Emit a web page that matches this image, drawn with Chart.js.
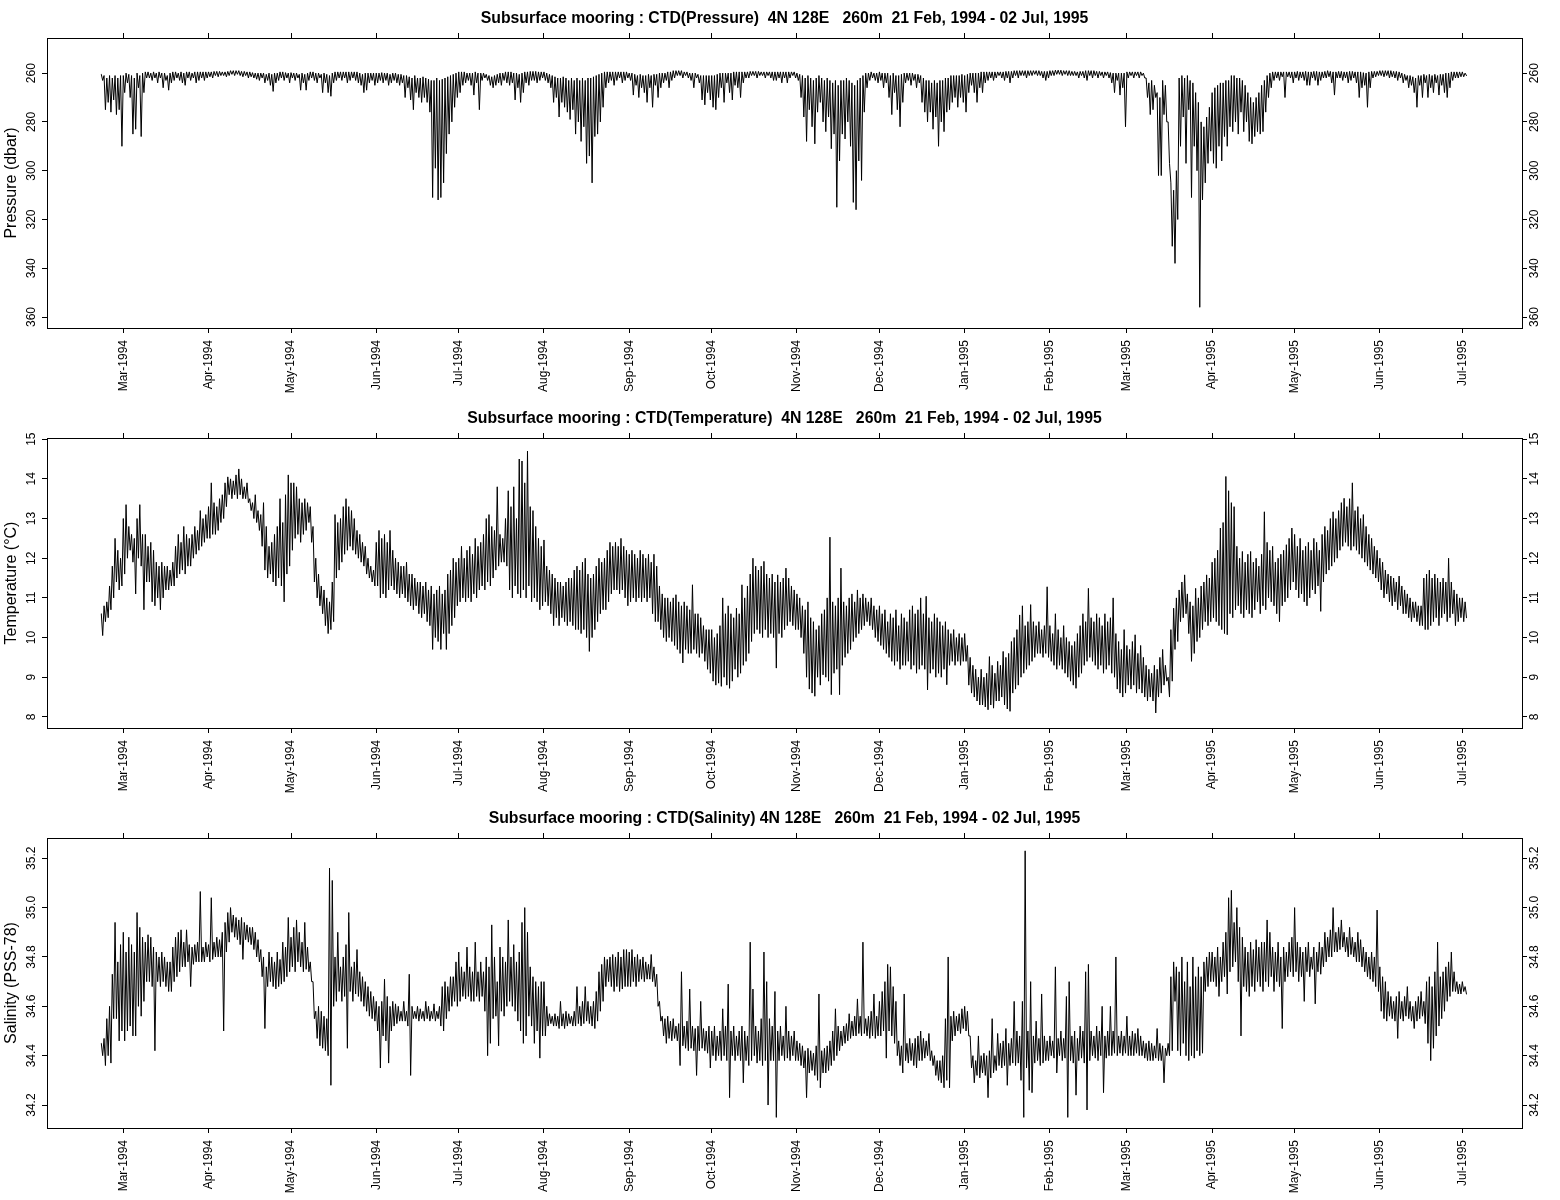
<!DOCTYPE html>
<html>
<head>
<meta charset="utf-8">
<script src="https://cdn.jsdelivr.net/npm/chart.js@4.4.1/dist/chart.umd.min.js"></script>
<style>
  body { margin: 0; background: #fff; }
  canvas { display: block; }
</style>
</head>
<body>
<canvas id="pressureChart" width="1560" height="400"></canvas>
<canvas id="temperatureChart" width="1560" height="400"></canvas>
<canvas id="salinityChart" width="1560" height="400"></canvas>
<script>
// time axis: days counted from 1 Mar 1994, record runs 21 Feb 1994 - 02 Jul 1995
const firstDay = -8;
const monthDays = [0, 31, 61, 92, 122, 153, 184, 214, 245, 275, 306, 337, 365, 396, 426, 457, 487];
const monthLabels = ['Mar-1994', 'Apr-1994', 'May-1994', 'Jun-1994', 'Jul-1994', 'Aug-1994', 'Sep-1994', 'Oct-1994',
    'Nov-1994', 'Dec-1994', 'Jan-1995', 'Feb-1995', 'Mar-1995', 'Apr-1995', 'May-1995', 'Jun-1995', 'Jul-1995'];

const pressureTicks = [260, 280, 300, 320, 340, 360];
const temperatureTicks = [8, 9, 10, 11, 12, 13, 14, 15];
const salinityTicks = [34.2, 34.4, 34.6, 34.8, 35.0, 35.2];

// daily shallowest / deepest pressure (dbar)
const pressureMin = [
    260.5, 261, 262, 261, 262, 261, 262, 261,
    261, 260, 260.5, 261, 262, 260, 261, 260, 259.5, 259.5, 260, 259.5, 260, 259.5, 260, 260, 261, 260, 259.5, 259.5, 260, 259.5, 260, 259.5, 259.5, 260, 259.5, 259.5, 259.5, 259.5, 259.5,
    259.5, 259.5, 259.3, 259.3, 259.3, 259.5, 259.5, 259.3, 259, 259, 259, 259, 259.3, 259.3, 259.5, 259.5, 259.8, 260, 260, 260, 260, 260.5, 260, 260.5, 260, 260, 259.5, 259.5, 259.8, 260,
    259.8, 260, 260, 260.5, 260, 260.5, 260, 259.5, 259.5, 260, 260, 260.5, 260, 260.5, 261, 260, 259.5, 259.5, 259.5, 259.5, 259.5, 259.5, 259.5, 259.5, 259.5, 260, 260.5, 260, 260, 260, 260,
    260, 260, 259.8, 260, 260, 260.5, 260, 260, 260.5, 260.5, 261, 261, 261.5, 262, 261, 262, 262, 261.5, 262, 262.5, 263, 263, 262, 263, 262.5, 262, 261.5, 261, 260.5, 260,
    259.5, 259.5, 259.5, 260, 260, 260, 259.5, 260, 260, 260, 260.5, 261, 261.5, 261, 260.5, 260, 260, 259.5, 259.5, 259.5, 260, 260, 260.5, 260, 259.5, 259.5, 259.3, 259.3, 259.3, 259.5, 259.5,
    259.5, 260, 260.5, 261, 261.5, 262, 262, 261.5, 262, 263, 262, 263, 262, 263, 262, 263, 262, 262, 261.5, 261, 260.5, 260, 259.5, 259.5, 259.5, 259.5, 259.5, 259.5, 259.5, 259.5, 259.5,
    260, 260, 260.5, 261, 260.5, 261, 261, 260.5, 261, 260.5, 260.5, 260, 260, 260, 259.5, 259.5, 259, 259, 259, 259, 259.5, 259.5, 260, 260, 260, 260.5, 261, 261, 261, 261,
    261, 261, 260.5, 260, 260, 260, 260, 260, 259.5, 259.5, 259.5, 259.5, 259.5, 259.5, 259.3, 259.3, 259.3, 259.3, 259.5, 259.5, 259.5, 259.5, 259.5, 259.5, 259.5, 259.5, 259.5, 259.5, 259.5, 259.5, 259.5,
    260, 260.5, 261, 262, 261, 262, 263, 262, 261, 262, 263, 262, 263, 264, 263, 265, 263, 263, 262, 263, 264, 265, 263, 262, 261, 260, 260, 259.5, 260, 260,
    259.5, 260, 260, 260, 261, 260, 261, 261, 260.5, 260, 260, 260, 260, 260.5, 260.5, 261, 262, 263, 263, 264, 263, 264, 263, 263, 262, 262, 261, 261, 261, 261, 260.5,
    261, 260.5, 260, 260, 260, 260, 259.5, 259.5, 259.5, 259.5, 259.5, 259.5, 259.5, 259.5, 259.5, 259.3, 259.3, 259.3, 259, 259, 259, 259, 259, 259, 259, 259, 259, 259, 259.3, 259.3, 259.3,
    259, 259, 258.8, 258.8, 258.8, 259, 259, 259, 259.3, 259.3, 259.5, 259.3, 259.3, 259, 259, 259, 259, 259.3, 259.3, 259.5, 259.5, 259.5, 259.8, 260, 260, 260, 260, 260,
    259.5, 259.5, 259.5, 259.5, 259.5, 259.5, 260, 262, 264, 263, 265, 268, 270, 263, 265, 280, 305, 308, 300, 262, 261, 262, 261, 263, 264, 268, 272, 280, 282, 278, 274,
    268, 266, 265, 264, 264, 263, 263, 261, 261, 262, 262, 263, 265, 268, 270, 272, 270, 268, 265, 263, 261, 260, 259.5, 259.5, 259.5, 259.5, 259.5, 259.5, 259.5, 259.5,
    259.5, 259.3, 259.5, 259.5, 259.3, 259.5, 259.5, 259.3, 259.3, 259.5, 259.5, 259.3, 259, 259.3, 259.5, 259.5, 259.3, 259.3, 259.5, 259.5, 259.3, 259.3, 259.5, 259.5, 259.5, 259.8, 260, 259.5, 259.3, 259.3, 259.3,
    259, 259, 259, 259, 259, 259.3, 259.3, 259.5, 260, 260.5, 261, 261, 261.5, 262, 261, 261, 260.5, 261, 260.5, 261, 260.5, 261, 260.5, 260.5, 260, 260, 259.5, 259.5, 259.5, 259.5,
    259.5, 260
];
const pressureMax = [
    263, 275, 272, 276, 271, 277, 275, 290,
    268, 264, 270, 285, 283, 266, 286, 268, 262, 262, 263, 262, 264, 262, 266, 263, 267, 264, 263, 262, 263, 264, 265, 262, 263, 262, 264, 263, 262, 263, 262,
    261.5, 262, 261, 261.5, 261, 261, 261.5, 261, 260.5, 261, 260.5, 261, 261.5, 261, 262, 261.5, 262, 262.5, 263, 262, 264, 263, 265, 267.5, 264, 263, 262, 263, 262, 264,
    262, 263, 262, 267, 264, 267, 263, 262, 263, 264, 262, 268, 264, 268, 269.5, 264, 263, 262, 263, 262, 264, 263, 262, 263, 264, 265, 268, 267, 264, 263, 265,
    264, 263, 264, 263, 265, 264, 263, 264, 265, 264, 270, 266, 271, 275, 268, 270, 272, 270, 272, 276, 311, 299, 312, 311, 305, 293, 285, 280, 274, 270,
    268, 265, 264, 263, 265, 269, 264, 275, 263, 262, 263, 265, 266, 265, 264, 265, 263, 264, 265, 264, 271, 266, 272, 268, 264, 265, 263, 263, 264, 263, 262,
    263, 264, 266, 272, 270, 278, 272, 274, 276, 279, 275, 285, 280, 288, 282, 297, 294, 305, 286, 285, 280, 274, 266, 264, 263, 265, 263, 262, 264, 263, 262,
    263, 269, 265, 270, 266, 268, 272, 266, 274, 265, 270, 266, 264, 263, 266, 263, 262, 261, 261, 262, 261, 262, 263, 266, 262, 264, 271, 273, 268, 271,
    274, 275, 270, 266, 272, 264, 268, 271, 265, 266, 270, 264, 262, 262, 261, 261, 262, 261, 261, 262, 261, 262, 263, 263, 262, 264, 262, 264, 262, 261, 262,
    263, 270, 278, 288, 275, 282, 289, 276, 272, 280, 284, 278, 291, 285, 315, 296, 285, 287, 280, 290, 313, 316, 296, 304, 276, 266, 263, 262, 263, 264,
    263, 266, 264, 270, 277, 268, 275, 282, 272, 264, 263, 265, 263, 266, 264, 272, 276, 280, 276, 283, 278, 290, 280, 284, 276, 275, 272, 270, 274, 270, 272,
    276, 268, 265, 268, 272, 266, 268, 264, 263, 262, 263, 262, 261, 262, 263, 262, 264, 262, 261, 262, 261, 261, 262, 261, 261, 260.5, 261, 261, 262, 263, 262,
    261, 261, 260.5, 260.5, 261, 260.5, 261, 261, 261, 261, 262, 261, 262, 263, 261, 262, 261, 262, 261, 262, 261, 262, 264, 268, 263, 269, 266, 282,
    262, 261, 262, 261, 262, 261, 262, 270, 277, 275, 270, 302, 302, 277, 280, 297, 331, 338, 320, 290, 278, 297, 275, 311, 290, 300, 356, 312, 305, 297, 292,
    297, 299, 290, 296, 286, 290, 282, 284, 280, 285, 276, 284, 280, 288, 289, 286, 284, 285, 284, 276, 270, 266, 263, 262, 263, 261.5, 270, 261.5, 262, 264,
    262, 263, 262, 263, 265, 265, 262, 263, 265, 263, 262, 262, 261.5, 264, 269, 262, 262, 263, 262, 264, 263, 262, 264, 270, 266, 265, 274, 266, 262, 261.5, 261,
    261, 261.5, 261, 262, 261.5, 262, 263, 262, 264, 263, 266, 265, 268, 274, 265, 270, 264, 270, 266, 268, 264, 269, 265, 268, 270, 266, 263, 262, 262, 261.5,
    261.5, 261
];

// daily warmest / coldest temperature (deg C)
const temperatureMax = [
    10.6, 10.8, 10.9, 11.3, 11.8, 12.5, 12.2, 12.0,
    13.0, 13.35, 12.8, 12.6, 12.5, 13.0, 13.35, 12.6, 12.6, 12.3, 12.4, 12.2, 11.9, 11.8, 11.9, 11.8, 11.8, 11.7, 11.9, 12.3, 12.6, 12.4, 12.8, 12.6, 12.5, 12.6, 12.8, 12.7, 13.2, 13.0, 13.1,
    13.3, 13.9, 13.4, 13.3, 13.5, 13.6, 13.9, 14.05, 14.0, 13.95, 14.1, 14.25, 14.0, 13.8, 13.9, 13.5, 13.4, 13.6, 13.2, 13.1, 13.4, 12.8, 12.3, 12.4, 12.6, 12.8, 13.5, 12.9, 13.6, 14.1,
    13.9, 13.9, 13.8, 13.5, 13.4, 13.5, 13.4, 13.3, 12.8, 12.0, 11.6, 11.3, 11.2, 11.0, 10.9, 11.4, 13.1, 12.9, 13.0, 13.3, 13.5, 13.3, 13.2, 13.0, 12.7, 12.6, 12.4, 12.3, 12.0, 11.8, 11.7,
    12.4, 12.7, 12.5, 12.6, 12.4, 12.7, 12.2, 12.0, 11.9, 11.8, 11.8, 11.9, 11.6, 11.6, 11.5, 11.4, 11.4, 11.3, 11.4, 11.2, 11.3, 11.1, 11.2, 11.3, 11.1, 11.2, 11.6, 11.7, 12.0, 11.9,
    12.0, 12.3, 12.0, 12.2, 12.3, 12.1, 12.5, 12.3, 12.4, 12.6, 13.0, 13.1, 12.8, 12.7, 13.8, 12.6, 12.5, 13.0, 13.7, 13.3, 13.8, 13.0, 14.5, 14.45, 13.9, 14.7, 13.3, 13.2, 12.8, 12.5, 12.3,
    12.46, 11.8, 11.7, 11.6, 11.5, 11.4, 11.4, 11.3, 11.4, 11.5, 11.5, 11.7, 11.8, 11.7, 11.9, 12.0, 11.6, 11.5, 11.6, 11.8, 12.0, 11.9, 12.0, 12.2, 12.4, 12.3, 12.4, 12.3, 12.5, 12.3, 12.2,
    12.1, 12.2, 12.1, 12.0, 12.2, 12.1, 12.0, 12.1, 11.9, 12.1, 11.8, 11.3, 11.1, 11.0, 11.0, 10.9, 11.0, 11.08, 10.9, 10.8, 10.9, 10.8, 10.7, 11.33, 10.6, 10.6, 10.5, 10.3, 10.2, 10.2,
    10.2, 10.0, 10.1, 10.3, 11.0, 10.6, 10.8, 10.6, 10.5, 10.74, 10.6, 11.33, 11.0, 11.3, 11.6, 12.0, 11.8, 11.7, 11.8, 11.92, 11.6, 11.5, 11.6, 11.4, 11.58, 11.4, 11.5, 11.75, 11.5, 11.3, 11.2,
    11.1, 11.0, 10.8, 10.7, 10.9, 10.5, 10.4, 10.2, 10.3, 10.6, 10.7, 11.0, 12.53, 10.9, 10.8, 11.0, 11.75, 10.9, 10.8, 11.0, 11.1, 10.9, 11.2, 11.0, 11.1, 11.0, 10.9, 11.0, 10.8, 10.7,
    10.8, 10.6, 10.7, 10.4, 10.6, 10.5, 10.7, 10.3, 10.6, 10.5, 10.4, 10.7, 10.8, 10.6, 10.7, 11.0, 10.6, 11.04, 10.5, 10.4, 10.6, 10.5, 10.4, 10.3, 10.4, 10.2, 10.1, 10.2, 10.0, 10.1, 10.0,
    10.1, 9.8, 9.5, 9.3, 9.2, 9.0, 9.2, 9.0, 9.1, 9.52, 9.3, 9.1, 9.4, 9.3, 9.65, 9.5, 9.6, 9.9, 10.0, 10.2, 10.57, 10.8, 10.3, 10.4, 10.83, 10.4, 10.3, 10.4, 10.2, 10.3, 11.28,
    10.3, 10.1, 10.6, 10.2, 10.0, 10.3, 10.0, 9.9, 9.8, 9.9, 10.1, 10.3, 10.6, 10.4, 11.24, 10.5, 10.4, 10.6, 10.5, 10.3, 10.6, 10.4, 10.5, 11.0, 10.1, 9.9, 9.7, 10.2,
    9.8, 9.7, 9.9, 10.07, 9.6, 9.8, 9.5, 9.3, 9.2, 9.1, 9.3, 9.2, 9.5, 9.7, 9.3, 9.0, 10.2, 10.74, 11.0, 11.2, 11.4, 11.58, 11.1, 10.9, 10.8, 11.24, 11.0, 11.3, 11.4, 11.58, 11.5,
    11.9, 12.0, 12.2, 12.76, 12.9, 14.06, 13.7, 13.4, 13.3, 12.3, 12.0, 12.17, 11.9, 12.1, 12.17, 11.9, 12.0, 11.8, 12.1, 13.17, 12.4, 12.2, 12.3, 11.9, 12.0, 12.1, 12.2, 12.34, 12.5, 12.76,
    12.6, 12.3, 12.5, 12.2, 12.3, 12.4, 12.2, 12.5, 12.4, 12.2, 12.6, 12.8, 12.7, 13.0, 13.17, 13.0, 13.2, 13.4, 13.51, 13.3, 13.5, 13.9, 13.2, 13.3, 13.0, 13.1, 12.8, 12.6, 12.5, 12.3, 12.2,
    12.0, 11.9, 11.7, 11.6, 11.55, 11.5, 11.4, 11.55, 11.3, 11.2, 11.1, 11.0, 10.9, 10.9, 10.8, 10.8, 11.5, 11.6, 11.7, 11.5, 11.6, 11.5, 11.4, 11.5, 11.4, 12.0, 11.4, 11.2, 11.1, 11.0,
    11.0, 10.9
];
const temperatureMin = [
    10.05, 10.4, 10.5, 10.7, 11.0, 11.4, 11.2, 11.3,
    11.6, 12.0, 12.2, 11.9, 11.1, 12.0, 11.8, 10.7, 11.4, 11.4, 10.9, 10.8, 11.0, 10.7, 11.0, 11.2, 11.2, 11.3, 11.3, 11.5, 11.6, 11.7, 11.6, 11.8, 11.8, 12.0, 12.1, 12.2, 12.3, 12.4, 12.5,
    12.5, 12.6, 12.6, 12.7, 12.9, 13.0, 13.3, 13.6, 13.5, 13.6, 13.5, 13.6, 13.5, 13.5, 13.4, 13.2, 13.0, 12.9, 12.7, 12.3, 11.7, 11.5, 11.6, 11.4, 11.3, 11.5, 11.3, 10.9, 11.6, 11.8,
    12.2, 12.5, 12.6, 12.4, 12.6, 12.7, 12.9, 12.4, 11.4, 11.0, 10.8, 10.6, 10.3, 10.1, 10.2, 10.4, 11.5, 11.7, 11.9, 12.1, 12.2, 12.3, 12.2, 12.1, 12.0, 11.9, 11.8, 11.6, 11.5, 11.4, 11.3,
    11.3, 11.0, 11.1, 11.0, 11.2, 11.3, 11.2, 11.1, 11.0, 11.1, 11.0, 10.9, 10.8, 10.7, 10.8, 10.6, 10.5, 10.6, 10.4, 10.3, 9.7, 10.0, 9.9, 9.7, 10.1, 9.7, 10.1, 10.3, 10.5, 10.8,
    10.9, 11.0, 10.9, 11.0, 10.9, 11.1, 11.0, 11.2, 11.3, 11.2, 11.4, 11.3, 11.5, 11.7, 11.8, 11.9, 11.9, 11.8, 11.2, 11.0, 11.3, 11.1, 11.0, 11.2, 11.0, 11.3, 10.9, 11.0, 10.9, 10.7, 10.8,
    10.9, 10.8, 10.6, 10.3, 10.5, 10.3, 10.5, 10.4, 10.3, 10.4, 10.3, 10.2, 10.2, 10.1, 10.2, 10.0, 9.65, 10.0, 10.2, 10.4, 10.6, 10.7, 10.7, 10.9, 11.1, 11.2, 11.2, 11.1, 11.2, 11.0, 10.8,
    10.9, 11.0, 10.9, 11.0, 10.9, 11.0, 10.9, 11.0, 10.6, 10.4, 10.4, 10.2, 10.0, 9.9, 10.0, 9.9, 9.8, 9.7, 9.6, 9.36, 9.7, 9.6, 9.6, 9.7, 9.6, 9.5, 9.6, 9.4, 9.2, 9.1,
    8.9, 8.8, 8.85, 8.77, 9.0, 8.8, 8.72, 8.9, 9.2, 9.0, 9.1, 9.3, 9.4, 9.6, 9.9, 10.1, 10.2, 10.1, 10.0, 10.2, 10.0, 10.1, 10.0, 9.23, 10.1, 10.0, 10.2, 10.3, 10.4, 10.3, 10.2,
    10.2, 10.0, 9.6, 9.0, 8.7, 8.6, 8.52, 9.0, 8.8, 9.06, 9.0, 8.9, 8.56, 9.1, 9.2, 8.56, 9.3, 9.5, 9.6, 9.7, 9.9, 10.0, 10.1, 10.2, 10.3, 10.4, 10.3, 10.2, 10.0, 9.9,
    9.8, 9.7, 9.6, 9.5, 9.4, 9.3, 9.4, 9.2, 9.3, 9.3, 9.4, 9.2, 9.3, 9.1, 9.2, 9.3, 9.2, 8.68, 9.1, 9.2, 9.0, 9.1, 9.0, 9.2, 8.81, 9.3, 9.4, 9.3, 9.4, 9.3, 9.4,
    9.4, 8.8, 8.6, 8.5, 8.4, 8.3, 8.3, 8.25, 8.18, 8.3, 8.22, 8.4, 8.4, 8.5, 8.3, 8.2, 8.14, 8.6, 8.7, 8.8, 9.0, 9.1, 9.2, 9.3, 9.4, 9.5, 9.6, 9.6, 9.5, 9.6, 9.5,
    9.4, 9.3, 9.2, 9.3, 9.2, 9.1, 9.0, 8.9, 8.8, 8.72, 9.0, 9.1, 9.3, 9.4, 9.5, 9.4, 9.3, 9.2, 9.3, 9.1, 9.2, 9.3, 9.1, 9.0, 8.7, 8.6, 8.5, 8.6,
    8.8, 8.7, 8.8, 8.6, 8.7, 8.6, 8.5, 8.4, 8.5, 8.4, 8.1, 8.5, 8.6, 8.8, 8.9, 8.5, 8.9, 9.7, 9.9, 10.4, 10.5, 10.6, 10.1, 9.4, 9.6, 9.9, 10.0, 10.2, 10.4, 10.3, 10.4,
    10.5, 10.4, 10.3, 10.2, 10.1, 10.07, 10.6, 10.5, 10.7, 10.8, 10.6, 10.5, 10.7, 10.6, 10.5, 10.7, 10.9, 10.6, 10.8, 10.7, 11.0, 10.9, 10.8, 10.6, 10.4, 10.8, 10.9, 11.0, 11.2, 11.4,
    11.2, 11.0, 11.1, 10.9, 10.8, 11.0, 11.2, 11.1, 11.3, 10.66, 11.4, 11.6, 11.7, 11.8, 11.9, 12.0, 12.2, 12.3, 12.4, 12.3, 12.2, 12.3, 12.2, 12.1, 12.0, 11.9, 11.8, 11.7, 11.6, 11.5, 11.4,
    11.2, 11.0, 11.1, 10.9, 10.8, 10.9, 10.7, 10.8, 10.6, 10.6, 10.5, 10.4, 10.5, 10.4, 10.3, 10.3, 10.2, 10.2, 10.3, 10.4, 10.5, 10.3, 10.5, 10.6, 10.4, 10.5, 10.6, 10.3, 10.4, 10.5,
    10.4, 10.5
];

// daily highest / lowest salinity (PSS-78)
const salinityMax = [
    34.45, 34.47, 34.55, 34.60, 34.73, 34.94, 34.78, 34.85,
    34.90, 34.82, 34.88, 34.85, 34.82, 34.98, 34.92, 34.88, 34.86, 34.89, 34.88, 34.84, 34.82, 34.80, 34.82, 34.80, 34.78, 34.78, 34.84, 34.88, 34.90, 34.91, 34.86, 34.91, 34.85, 34.84, 34.85, 34.86, 35.065, 34.84, 34.86,
    34.85, 35.04, 34.86, 34.88, 34.87, 34.90, 34.94, 34.98, 35.00, 34.97, 34.96, 34.95, 34.96, 34.94, 34.93, 34.92, 34.92, 34.90, 34.87, 34.83, 34.80, 34.76, 34.82, 34.80, 34.78, 34.82, 34.79, 34.86, 34.84, 34.96,
    34.88, 34.92, 34.95, 34.90, 34.86, 34.94, 34.84, 34.78, 34.70, 34.58, 34.60, 34.58, 34.56, 34.55, 35.16, 35.11, 34.80, 34.90, 34.76, 34.80, 34.85, 34.98, 34.76, 34.78, 34.83, 34.74, 34.72, 34.70, 34.68, 34.66, 34.64,
    34.62, 34.60, 34.62, 34.71, 34.64, 34.60, 34.62, 34.61, 34.60, 34.58, 34.62, 34.58, 34.73, 34.60, 34.58, 34.60, 34.59, 34.58, 34.62, 34.60, 34.58, 34.61, 34.58, 34.60, 34.68, 34.70, 34.68, 34.72, 34.72, 34.78,
    34.82, 34.76, 34.74, 34.84, 34.76, 34.74, 34.86, 34.74, 34.78, 34.74, 34.80, 34.76, 34.93, 34.80, 34.70, 34.84, 34.80, 34.78, 34.95, 34.80, 34.85, 34.78, 34.82, 34.94, 35.00, 34.90, 34.76, 34.72, 34.70, 34.68, 34.70,
    34.70, 34.60, 34.57, 34.56, 34.57, 34.56, 34.62, 34.57, 34.58, 34.57, 34.56, 34.58, 34.68, 34.60, 34.62, 34.68, 34.62, 34.60, 34.62, 34.66, 34.74, 34.77, 34.80, 34.79, 34.80, 34.81, 34.80, 34.82, 34.80, 34.83, 34.83,
    34.82, 34.83, 34.80, 34.81, 34.79, 34.80, 34.78, 34.77, 34.81, 34.76, 34.73, 34.62, 34.56, 34.55, 34.56, 34.54, 34.55, 34.52, 34.53, 34.74, 34.52, 34.54, 34.67, 34.52, 34.51, 34.52, 34.62, 34.51, 34.50, 34.52,
    34.50, 34.52, 34.48, 34.50, 34.59, 34.52, 34.69, 34.50, 34.52, 34.48, 34.50, 34.52, 34.50, 34.48, 34.86, 34.67, 34.52, 34.50, 34.55, 34.82, 34.70, 34.55, 34.52, 34.66, 34.50, 34.52, 34.48, 34.60, 34.50, 34.48, 34.50,
    34.46, 34.45, 34.44, 34.42, 34.43, 34.42, 34.41, 34.44, 34.65, 34.42, 34.43, 34.44, 34.46, 34.50, 34.59, 34.52, 34.50, 34.52, 34.53, 34.57, 34.54, 34.56, 34.63, 34.56, 34.86, 34.55, 34.56, 34.58, 34.65, 34.56,
    34.62, 34.66, 34.70, 34.77, 34.76, 34.68, 34.62, 34.46, 34.44, 34.65, 34.45, 34.47, 34.45, 34.47, 34.48, 34.50, 34.47, 34.46, 34.49, 34.42, 34.40, 34.38, 34.38, 34.40, 34.55, 34.80, 34.56, 34.58, 34.56, 34.57, 34.59,
    34.60, 34.58, 34.48, 34.40, 34.38, 34.48, 34.40, 34.41, 34.40, 34.42, 34.55, 34.40, 34.49, 34.45, 34.46, 34.51, 34.45, 34.47, 34.62, 34.50, 34.48, 34.62, 35.23, 34.50, 34.70, 34.48, 34.54, 34.47, 34.65, 34.48, 34.46,
    34.48, 34.46, 34.76, 34.47, 34.50, 34.47, 34.64, 34.70, 34.48, 34.50, 34.47, 34.52, 34.50, 34.74, 34.77, 34.50, 34.48, 34.52, 34.50, 34.60, 34.48, 34.50, 34.60, 34.50, 34.80, 34.48, 34.50, 34.48,
    34.56, 34.48, 34.50, 34.49, 34.51, 34.48, 34.46, 34.45, 34.46, 34.45, 34.44, 34.51, 34.45, 34.44, 34.43, 34.45, 34.72, 34.78, 34.76, 34.74, 34.80, 34.70, 34.78, 34.68, 34.80, 34.72, 34.76, 34.72, 34.78, 34.80, 34.82,
    34.82, 34.80, 34.84, 34.80, 34.86, 34.90, 35.04, 35.07, 34.94, 35.00, 34.92, 34.88, 34.84, 34.82, 34.86, 34.83, 34.87, 34.84, 34.86, 34.86, 34.95, 34.90, 34.84, 34.82, 34.86, 34.80, 34.84, 34.82, 34.86, 34.88,
    35.00, 34.86, 34.84, 34.82, 34.84, 34.86, 34.80, 34.84, 34.82, 34.86, 34.84, 34.90, 34.88, 34.91, 35.00, 34.90, 34.92, 34.95, 34.90, 34.88, 34.92, 34.88, 34.86, 34.90, 34.87, 34.84, 34.82, 34.80, 34.82, 34.80, 34.99,
    34.76, 34.72, 34.70, 34.66, 34.64, 34.62, 34.64, 34.66, 34.62, 34.64, 34.68, 34.62, 34.60, 34.62, 34.64, 34.66, 34.62, 34.70, 34.72, 34.68, 34.74, 34.86, 34.72, 34.74, 34.76, 34.78, 34.82, 34.74, 34.70, 34.69,
    34.70, 34.68
];
const salinityMin = [
    34.40, 34.36, 34.40, 34.37, 34.55, 34.55, 34.46, 34.50,
    34.46, 34.50, 34.52, 34.48, 34.48, 34.60, 34.56, 34.62, 34.70, 34.70, 34.68, 34.42, 34.70, 34.68, 34.70, 34.68, 34.66, 34.66, 34.70, 34.72, 34.74, 34.76, 34.76, 34.78, 34.68, 34.77, 34.78, 34.78, 34.78, 34.78, 34.80,
    34.78, 34.79, 34.80, 34.80, 34.80, 34.50, 34.82, 34.86, 34.90, 34.88, 34.87, 34.85, 34.79, 34.87, 34.86, 34.85, 34.83, 34.80, 34.78, 34.72, 34.51, 34.68, 34.70, 34.68, 34.67, 34.68, 34.69, 34.70, 34.72, 34.74,
    34.76, 34.74, 34.78, 34.76, 34.74, 34.75, 34.74, 34.70, 34.55, 34.47, 34.44, 34.43, 34.42, 34.40, 34.28, 34.60, 34.62, 34.66, 34.62, 34.64, 34.43, 34.66, 34.62, 34.65, 34.64, 34.62, 34.60, 34.58, 34.56, 34.55, 34.54,
    34.50, 34.35, 34.48, 34.46, 34.37, 34.50, 34.52, 34.53, 34.54, 34.54, 34.54, 34.52, 34.32, 34.55, 34.55, 34.54, 34.55, 34.54, 34.55, 34.54, 34.55, 34.54, 34.55, 34.52, 34.50, 34.55, 34.58, 34.60, 34.62, 34.60,
    34.62, 34.64, 34.63, 34.64, 34.62, 34.62, 34.64, 34.62, 34.64, 34.58, 34.40, 34.45, 34.55, 34.56, 34.44, 34.58, 34.56, 34.60, 34.62, 34.60, 34.58, 34.54, 34.50, 34.45, 34.48, 34.56, 34.52, 34.45, 34.50, 34.39, 34.48,
    34.48, 34.52, 34.53, 34.52, 34.52, 34.51, 34.52, 34.51, 34.52, 34.53, 34.52, 34.52, 34.53, 34.52, 34.53, 34.54, 34.53, 34.52, 34.51, 34.54, 34.58, 34.62, 34.68, 34.70, 34.68, 34.66, 34.68, 34.66, 34.67, 34.68, 34.68,
    34.68, 34.70, 34.68, 34.70, 34.71, 34.70, 34.71, 34.71, 34.70, 34.68, 34.60, 34.54, 34.48, 34.45, 34.47, 34.46, 34.47, 34.46, 34.36, 34.44, 34.43, 34.42, 34.43, 34.42, 34.32, 34.42, 34.43, 34.42, 34.41, 34.35,
    34.40, 34.38, 34.40, 34.38, 34.40, 34.38, 34.23, 34.40, 34.38, 34.40, 34.38, 34.29, 34.38, 34.36, 34.38, 34.40, 34.37, 34.38, 34.36, 34.38, 34.20, 34.38, 34.38, 34.15, 34.38, 34.40, 34.38, 34.39, 34.38, 34.40, 34.38,
    34.38, 34.36, 34.35, 34.23, 34.33, 34.34, 34.32, 34.30, 34.27, 34.33, 34.33, 34.34, 34.36, 34.38, 34.40, 34.42, 34.44, 34.45, 34.46, 34.47, 34.48, 34.48, 34.49, 34.48, 34.49, 34.48, 34.47, 34.48, 34.47, 34.48,
    34.48, 34.50, 34.39, 34.50, 34.48, 34.45, 34.40, 34.36, 34.33, 34.38, 34.37, 34.38, 34.36, 34.35, 34.38, 34.38, 34.39, 34.40, 34.38, 34.36, 34.32, 34.30, 34.29, 34.27, 34.30, 34.27, 34.46, 34.48, 34.50, 34.49, 34.51,
    34.50, 34.48, 34.35, 34.29, 34.32, 34.31, 34.33, 34.32, 34.23, 34.31, 34.33, 34.34, 34.36, 34.35, 34.36, 34.28, 34.36, 34.37, 34.36, 34.37, 34.30, 34.15, 34.35, 34.26, 34.25, 34.37, 34.38, 34.36, 34.37, 34.38, 34.38,
    34.40, 34.39, 34.33, 34.40, 34.38, 34.39, 34.15, 34.38, 34.37, 34.24, 34.38, 34.39, 34.37, 34.18, 34.38, 34.40, 34.39, 34.38, 34.40, 34.25, 34.39, 34.40, 34.40, 34.41, 34.40, 34.41, 34.40, 34.41,
    34.40, 34.40, 34.40, 34.41, 34.40, 34.40, 34.39, 34.38, 34.38, 34.38, 34.39, 34.38, 34.38, 34.29, 34.40, 34.40, 34.42, 34.62, 34.42, 34.40, 34.45, 34.40, 34.38, 34.40, 34.39, 34.42, 34.40, 34.41, 34.66, 34.68, 34.70,
    34.70, 34.68, 34.64, 34.70, 34.72, 34.65, 34.74, 34.76, 34.78, 34.70, 34.48, 34.68, 34.66, 34.64, 34.68, 34.66, 34.70, 34.68, 34.66, 34.70, 34.68, 34.72, 34.66, 34.70, 34.68, 34.51, 34.70, 34.72, 34.74, 34.72,
    34.74, 34.70, 34.72, 34.62, 34.74, 34.72, 34.75, 34.61, 34.74, 34.73, 34.76, 34.78, 34.80, 34.80, 34.82, 34.82, 34.83, 34.84, 34.82, 34.80, 34.81, 34.80, 34.78, 34.78, 34.76, 34.74, 34.72, 34.71, 34.70, 34.68, 34.66,
    34.58, 34.55, 34.54, 34.56, 34.55, 34.54, 34.47, 34.55, 34.54, 34.56, 34.55, 34.54, 34.51, 34.54, 34.55, 34.56, 34.53, 34.45, 34.38, 34.43, 34.48, 34.52, 34.55, 34.58, 34.62, 34.64, 34.66, 34.66, 34.65, 34.65,
    34.66, 34.65
];

Chart.defaults.font.family = '"Liberation Sans", Arial, Helvetica, sans-serif';
Chart.defaults.color = '#000';

// each day is drawn as its two extremes, half a day apart
function toSeries(first, second) {
    const points = [];
    first.forEach((v, i) => {
        points.push({ x: firstDay + i, y: v });
        points.push({ x: firstDay + i + 0.5, y: second[i] });
    });
    return points;
}

const measureCtx = document.createElement('canvas').getContext('2d');
measureCtx.font = '12px "Liberation Sans", Arial, sans-serif';
function widestLabel(labels) {
    return Math.max(...labels.map(t => measureCtx.measureText(t).width));
}

function renderPanel(canvasId, title, yTitle, points, yRange, yTicks, fmt, reverse) {
    const labels = yTicks.map(fmt);
    const half = widestLabel(labels) / 2;
    const tickGrid = { drawOnChartArea: false, drawTicks: true, tickLength: 5, color: '#000', lineWidth: 1 };
    const border = { display: true, color: '#000', width: 1 };
    const yBase = {
        type: 'linear',
        min: yRange[0],
        max: yRange[1],
        reverse: reverse,
        afterBuildTicks: s => { s.ticks = yTicks.map(v => ({ value: v })); },
        grid: tickGrid,
        border: border
    };
    const ctx = document.getElementById(canvasId).getContext('2d');
    return new Chart(ctx, {
        type: 'line',
        data: {
            datasets: [{
                data: points,
                borderColor: '#000',
                borderWidth: 1,
                borderJoinStyle: 'round',
                borderCapStyle: 'round',
                pointRadius: 0,
                tension: 0,
                fill: false
            }]
        },
        options: {
            responsive: false,
            animation: false,
            devicePixelRatio: 1,
            parsing: false,
            layout: { padding: 0 },
            plugins: {
                legend: { display: false },
                tooltip: { enabled: false },
                title: {
                    display: true,
                    text: title,
                    fullSize: false,
                    color: '#000',
                    font: { size: 15.8, weight: 'bold' },
                    padding: { top: 9.5, bottom: 3 }
                }
            },
            scales: {
                x: {
                    type: 'linear',
                    position: 'bottom',
                    min: -27.75,
                    max: 508.7,
                    afterBuildTicks: s => { s.ticks = monthDays.map(v => ({ value: v })); },
                    afterFit: s => { s.height = 72; },
                    ticks: {
                        autoSkip: false,
                        minRotation: 90,
                        maxRotation: 90,
                        padding: 7,
                        font: { size: 12 },
                        callback: (v, i) => monthLabels[i]
                    },
                    grid: tickGrid,
                    border: border
                },
                x2: {
                    type: 'linear',
                    axis: 'x',
                    position: 'top',
                    min: -27.75,
                    max: 508.7,
                    afterBuildTicks: s => { s.ticks = monthDays.map(v => ({ value: v })); },
                    afterFit: s => { s.height = 6.54; },
                    ticks: { display: false },
                    grid: tickGrid,
                    border: border
                },
                y: Object.assign({}, yBase, {
                    position: 'left',
                    afterFit: s => { s.width = 47; },
                    ticks: {
                        autoSkip: false,
                        minRotation: 90,
                        maxRotation: 90,
                        crossAlign: 'center',
                        padding: 10 - half,
                        font: { size: 12 },
                        callback: v => fmt(v)
                    },
                    title: {
                        display: true,
                        text: yTitle,
                        color: '#000',
                        font: { size: 16 },
                        padding: { top: 2, bottom: 0 }
                    }
                }),
                y2: Object.assign({}, yBase, {
                    axis: 'y',
                    position: 'right',
                    afterFit: s => { s.width = 38; },
                    ticks: {
                        autoSkip: false,
                        minRotation: 90,
                        maxRotation: 90,
                        crossAlign: 'center',
                        padding: 8 - half,
                        font: { size: 12 },
                        callback: v => fmt(v)
                    }
                })
            }
        }
    });
}

renderPanel('pressureChart',
    'Subsurface mooring : CTD(Pressure)  4N 128E   260m  21 Feb, 1994 - 02 Jul, 1995',
    'Pressure (dbar)',
    toSeries(pressureMin, pressureMax),
    [245.6, 364.5], pressureTicks, v => String(v), true);

renderPanel('temperatureChart',
    'Subsurface mooring : CTD(Temperature)  4N 128E   260m  21 Feb, 1994 - 02 Jul, 1995',
    'Temperature (°C)',
    toSeries(temperatureMax, temperatureMin),
    [7.72, 15.03], temperatureTicks, v => String(v), false);

renderPanel('salinityChart',
    'Subsurface mooring : CTD(Salinity) 4N 128E   260m  21 Feb, 1994 - 02 Jul, 1995',
    'Salinity (PSS-78)',
    toSeries(salinityMax, salinityMin),
    [34.107, 35.282], salinityTicks, v => v.toFixed(1), false);
</script>
</body>
</html>
